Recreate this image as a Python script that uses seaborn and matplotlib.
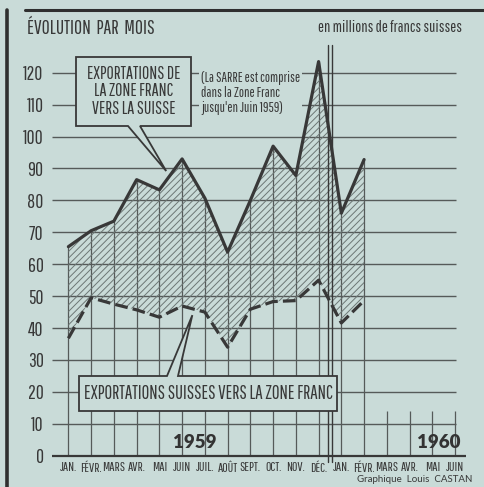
import numpy as np
import pandas as pd
import matplotlib
matplotlib.use("Agg")
import matplotlib.pyplot as plt
import matplotlib.transforms as mtransforms
from matplotlib.patches import Polygon
from matplotlib.lines import Line2D
import seaborn as sns

# Monthly values (millions of Swiss francs), Jan 1959 - Feb 1960
months = ["JAN.", "FÉVR.", "MARS", "AVR.", "MAI", "JUIN", "JUIL.", "AOÛT",
          "SEPT.", "OCT.", "NOV.", "DÉC.",
          "JAN.", "FÉVR.", "MARS", "AVR.", "MAI", "JUIN"]
zone_franc_to_suisse = [65.5, 70.5, 73.5, 86.5, 83.3, 93.0, 80.7, 63.8,
                        80.0, 97.0, 87.8, 123.5, 76.0, 92.8]
suisse_to_zone_franc = [36.8, 49.5, 47.5, 45.7, 43.4, 46.9, 45.0, 34.0,
                        45.9, 48.3, 48.6, 55.0, 41.6, 48.6]
y_ticks = list(range(0, 121, 10))

df = pd.DataFrame({
    "mois": np.arange(len(zone_franc_to_suisse)),
    "zf_ch": zone_franc_to_suisse,
    "ch_zf": suisse_to_zone_franc,
})

sns.set_style("white")
bg = "#c9dbd8"
ink = "#383838"
grid = "#555a59"
narrow = ["Pathway Gothic One", "Roboto Condensed", "DejaVu Sans"]
geo = ["Lato", "DejaVu Sans"]
plt.rcParams["font.family"] = narrow
plt.rcParams["hatch.linewidth"] = 0.7

fig = plt.figure(figsize=(4.85, 4.87), dpi=100, facecolor=bg)
W, H = 485, 487
# pixel coordinates (origin top-left) -> display
PX = mtransforms.Affine2D().scale(1 / W, -1 / H).translate(0, 1) + fig.transFigure

ax = fig.add_axes([52 / W, 1 - 460 / H, 414 / W, 415 / H])
ax.set_facecolor(bg)
ax.set_xlim(-0.72, 17.48)
ax.set_ylim(-1.35, 128.7)
for s in ax.spines.values():
    s.set_visible(False)

# grid
ax.hlines(y_ticks[1:], -0.72, 17.03, color=grid, lw=1.0, zorder=1)
ax.hlines(0, -0.72, 17.48, color=ink, lw=1.6, zorder=3)
ax.vlines(df["mois"], 0, df["zf_ch"], color=grid, lw=0.9, zorder=2)
ax.vlines(np.arange(len(df), len(months)), 0, 14, color=grid, lw=0.9, zorder=2)

# hatched band between the two series
ax.fill_between(df["mois"], df["ch_zf"], df["zf_ch"], facecolor="none",
                edgecolor="#6c7775", hatch="/////", lw=0, zorder=2)

sns.lineplot(data=df, x="mois", y="zf_ch", ax=ax, color=ink, lw=2.3,
             zorder=4)
sns.lineplot(data=df, x="mois", y="ch_zf", ax=ax, color=ink, lw=2.3,
             linestyle=(0, (4, 1.6)), zorder=4)

# separator between 1959 and 1960
for xs in (11.43, 11.58):
    ax.axvline(xs, ymin=-0.005, ymax=1.0, color=ink, lw=1.0, clip_on=False,
               zorder=5)

ax.set_xticks(range(len(months)))
ax.set_xticklabels(months, fontsize=9.5, color=ink)
ax.set_yticks(y_ticks)
ax.set_yticklabels([str(v) for v in y_ticks], fontsize=14, color=ink)
ax.tick_params(axis="x", length=0, pad=1.5)
ax.tick_params(axis="y", length=0, pad=6)
ax.set_xlabel("")
ax.set_ylabel("")


def to_px(x, y):
    d = ax.transData.transform((x, y))
    return PX.inverted().transform(d)


# callout: upper series
tx = 4.3
tip1 = to_px(tx, np.interp(tx, df["mois"], df["zf_ch"]) + 3)
box1 = [(76, 57), (191, 57), (191, 126), (140, 126), tuple(tip1), (128, 126),
        (76, 126)]
fig.patches.append(Polygon(box1, closed=True, transform=PX, facecolor=bg,
                           edgecolor=ink, lw=1.3, zorder=6))
fig.text(133.5, 91.5, "EXPORTATIONS DE\nLA ZONE FRANC\nVERS LA SUISSE",
         transform=PX, ha="center", va="center", fontsize=12.8,
         color=ink, linespacing=1.1, zorder=7)

# callout: lower series
tx = 5.45
tip2 = to_px(tx, np.interp(tx, df["mois"], df["ch_zf"]) - 2)
box2 = [(79, 376), (167, 376), tuple(tip2), (178, 376), (337, 376),
        (337, 411), (79, 411)]
fig.patches.append(Polygon(box2, closed=True, transform=PX, facecolor=bg,
                           edgecolor=ink, lw=1.3, zorder=6))
fig.text(208, 393.5, "EXPORTATIONS SUISSES VERS LA ZONE FRANC",
         transform=PX, ha="center", va="center", fontsize=13.5,
         color=ink, zorder=7)

# note on the Saar
fig.text(201, 93, "(La SARRE est comprise\ndans la Zone Franc\njusqu'en Juin 1959)",
         transform=PX, ha="left", va="center", fontsize=10, color=ink,
         linespacing=1.1, zorder=7,
         bbox=dict(facecolor=bg, edgecolor="none", pad=1.5))

# header texts
fig.text(27, 28, "ÉVOLUTION  PAR  MOIS", transform=PX, ha="left",
         va="center", fontsize=14, color=ink)
fig.text(462, 27, "en millions de francs suisses", transform=PX, ha="right",
         va="center", fontsize=11.5, color=ink)

# years and credit
for label, xc in (("1959", 195), ("1960", 439)):
    fig.text(xc, 442, label, transform=PX, ha="center", va="center",
             fontsize=13.5, fontweight="heavy", family=geo, color="#333333",
             zorder=7)
fig.text(472, 480, "Graphique  Louis  CASTAN", transform=PX, ha="right",
         va="center", fontsize=7, family=geo, color=ink)

# page frame
fig.add_artist(Line2D([25, 485], [10, 10], transform=PX, color="#2f2f2f",
                      lw=2.2))
fig.add_artist(Line2D([7, 7], [10, 487], transform=PX, color="#2f2f2f",
                      lw=2.6))

fig.savefig("out.png", dpi=100, facecolor=bg)
